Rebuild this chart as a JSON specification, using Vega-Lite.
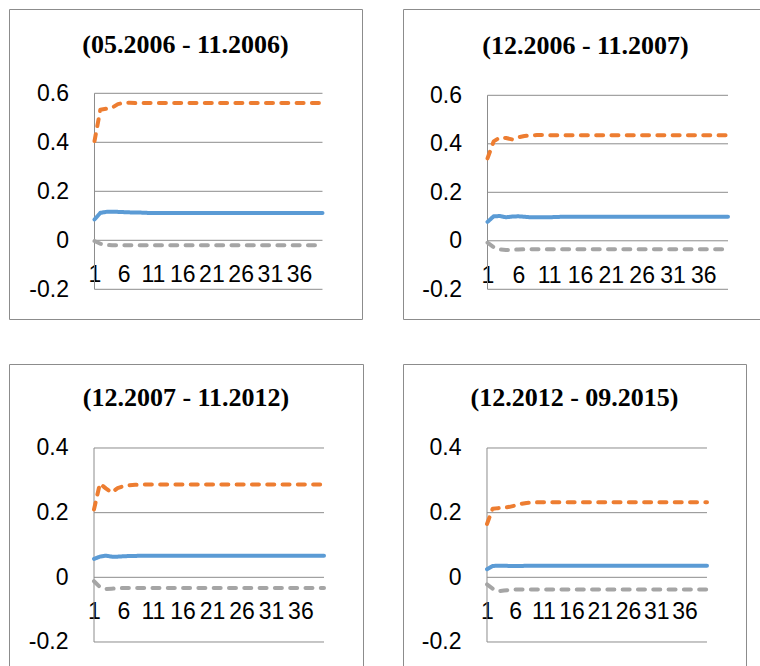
{
"$schema": "https://vega.github.io/schema/vega-lite/v6.json",
"padding": {"left": 8, "top": 8, "right": 0, "bottom": 0},
"background": "white",
"config": {
  "view": {"stroke": "#8c8c8c", "strokeWidth": 1},
  "axis": {"labelFont": "Liberation Sans", "labelFontSize": 23, "labelColor": "black", "domain": false, "ticks": false, "grid": false, "title": null, "labelOverlap": false, "labelBound": false, "labelFlush": false},
  "title": {"font": "Liberation Serif", "fontSize": 26, "fontWeight": "bold", "color": "black", "anchor": "middle", "frame": "group", "baseline": "alphabetic"}
},
"datasets": {
  "grid6": [{"v": -0.2, "x": 1, "xe": 40}, {"v": 0, "x": 1, "xe": 40}, {"v": 0.2, "x": 1, "xe": 40}, {"v": 0.4, "x": 1, "xe": 40}, {"v": 0.6, "x": 1, "xe": 40}],
  "grid4": [{"v": -0.2, "x": 1, "xe": 40}, {"v": 0, "x": 1, "xe": 40}, {"v": 0.2, "x": 1, "xe": 40}, {"v": 0.4, "x": 1, "xe": 40}],
  "axis6": [{"x": 1, "v": -0.2, "ve": 0.6}],
  "axis4": [{"x": 1, "v": -0.2, "ve": 0.4}],
  "series": [
{"p":1,"x":1,"b":0.085,"o":0.405,"g":-0.003},{"p":1,"x":2,"b":0.112,"o":0.533,"g":-0.014},{"p":1,"x":3,"b":0.116,"o":0.537,"g":-0.019},{"p":1,"x":4,"b":0.117,"o":0.541,"g":-0.02},{"p":1,"x":5,"b":0.116,"o":0.556,"g":-0.02},{"p":1,"x":6,"b":0.115,"o":0.561,"g":-0.02},{"p":1,"x":7,"b":0.114,"o":0.561,"g":-0.02},{"p":1,"x":8,"b":0.113,"o":0.56,"g":-0.02},{"p":1,"x":9,"b":0.113,"o":0.56,"g":-0.02},{"p":1,"x":10,"b":0.112,"o":0.56,"g":-0.02},
{"p":1,"x":11,"b":0.111,"o":0.56,"g":-0.02},{"p":1,"x":12,"b":0.111,"o":0.56,"g":-0.02},{"p":1,"x":13,"b":0.111,"o":0.56,"g":-0.02},{"p":1,"x":14,"b":0.111,"o":0.56,"g":-0.02},{"p":1,"x":15,"b":0.111,"o":0.56,"g":-0.02},{"p":1,"x":16,"b":0.111,"o":0.56,"g":-0.02},{"p":1,"x":17,"b":0.111,"o":0.56,"g":-0.02},{"p":1,"x":18,"b":0.111,"o":0.56,"g":-0.02},{"p":1,"x":19,"b":0.111,"o":0.56,"g":-0.02},{"p":1,"x":20,"b":0.111,"o":0.56,"g":-0.02},
{"p":1,"x":21,"b":0.111,"o":0.56,"g":-0.02},{"p":1,"x":22,"b":0.111,"o":0.56,"g":-0.02},{"p":1,"x":23,"b":0.111,"o":0.56,"g":-0.02},{"p":1,"x":24,"b":0.111,"o":0.56,"g":-0.02},{"p":1,"x":25,"b":0.111,"o":0.56,"g":-0.02},{"p":1,"x":26,"b":0.111,"o":0.56,"g":-0.02},{"p":1,"x":27,"b":0.111,"o":0.56,"g":-0.02},{"p":1,"x":28,"b":0.111,"o":0.56,"g":-0.02},{"p":1,"x":29,"b":0.111,"o":0.56,"g":-0.02},{"p":1,"x":30,"b":0.111,"o":0.56,"g":-0.02},
{"p":1,"x":31,"b":0.111,"o":0.56,"g":-0.02},{"p":1,"x":32,"b":0.111,"o":0.56,"g":-0.02},{"p":1,"x":33,"b":0.111,"o":0.56,"g":-0.02},{"p":1,"x":34,"b":0.111,"o":0.56,"g":-0.02},{"p":1,"x":35,"b":0.111,"o":0.56,"g":-0.02},{"p":1,"x":36,"b":0.111,"o":0.56,"g":-0.02},{"p":1,"x":37,"b":0.111,"o":0.56,"g":-0.02},{"p":1,"x":38,"b":0.111,"o":0.56,"g":-0.02},{"p":1,"x":39,"b":0.111,"o":0.56,"g":-0.02},{"p":1,"x":40,"b":0.111,"o":0.56,"g":-0.02},
{"p":2,"x":1,"b":0.078,"o":0.34,"g":-0.008},{"p":2,"x":2,"b":0.101,"o":0.41,"g":-0.026},{"p":2,"x":3,"b":0.102,"o":0.426,"g":-0.036},{"p":2,"x":4,"b":0.097,"o":0.424,"g":-0.038},{"p":2,"x":5,"b":0.1,"o":0.418,"g":-0.037},{"p":2,"x":6,"b":0.101,"o":0.427,"g":-0.036},{"p":2,"x":7,"b":0.099,"o":0.432,"g":-0.035},{"p":2,"x":8,"b":0.097,"o":0.435,"g":-0.035},{"p":2,"x":9,"b":0.097,"o":0.436,"g":-0.035},{"p":2,"x":10,"b":0.097,"o":0.436,"g":-0.035},
{"p":2,"x":11,"b":0.097,"o":0.435,"g":-0.035},{"p":2,"x":12,"b":0.098,"o":0.435,"g":-0.035},{"p":2,"x":13,"b":0.099,"o":0.435,"g":-0.035},{"p":2,"x":14,"b":0.099,"o":0.435,"g":-0.035},{"p":2,"x":15,"b":0.099,"o":0.435,"g":-0.035},{"p":2,"x":16,"b":0.099,"o":0.435,"g":-0.035},{"p":2,"x":17,"b":0.099,"o":0.435,"g":-0.035},{"p":2,"x":18,"b":0.099,"o":0.435,"g":-0.035},{"p":2,"x":19,"b":0.099,"o":0.435,"g":-0.035},{"p":2,"x":20,"b":0.099,"o":0.435,"g":-0.035},
{"p":2,"x":21,"b":0.099,"o":0.435,"g":-0.035},{"p":2,"x":22,"b":0.099,"o":0.435,"g":-0.035},{"p":2,"x":23,"b":0.099,"o":0.435,"g":-0.035},{"p":2,"x":24,"b":0.099,"o":0.435,"g":-0.035},{"p":2,"x":25,"b":0.099,"o":0.435,"g":-0.035},{"p":2,"x":26,"b":0.099,"o":0.435,"g":-0.035},{"p":2,"x":27,"b":0.099,"o":0.435,"g":-0.035},{"p":2,"x":28,"b":0.099,"o":0.435,"g":-0.035},{"p":2,"x":29,"b":0.099,"o":0.435,"g":-0.035},{"p":2,"x":30,"b":0.099,"o":0.435,"g":-0.035},
{"p":2,"x":31,"b":0.099,"o":0.435,"g":-0.035},{"p":2,"x":32,"b":0.099,"o":0.435,"g":-0.035},{"p":2,"x":33,"b":0.099,"o":0.435,"g":-0.035},{"p":2,"x":34,"b":0.099,"o":0.435,"g":-0.035},{"p":2,"x":35,"b":0.099,"o":0.435,"g":-0.035},{"p":2,"x":36,"b":0.099,"o":0.435,"g":-0.035},{"p":2,"x":37,"b":0.099,"o":0.435,"g":-0.035},{"p":2,"x":38,"b":0.099,"o":0.435,"g":-0.035},{"p":2,"x":39,"b":0.099,"o":0.435,"g":-0.035},{"p":2,"x":40,"b":0.099,"o":0.435,"g":-0.035},
{"p":3,"x":1,"b":0.057,"o":0.21,"g":-0.012},{"p":3,"x":2,"b":0.064,"o":0.29,"g":-0.03},{"p":3,"x":3,"b":0.067,"o":0.275,"g":-0.036},{"p":3,"x":4,"b":0.064,"o":0.262,"g":-0.035},{"p":3,"x":5,"b":0.064,"o":0.276,"g":-0.034},{"p":3,"x":6,"b":0.065,"o":0.282,"g":-0.033},{"p":3,"x":7,"b":0.066,"o":0.285,"g":-0.033},{"p":3,"x":8,"b":0.066,"o":0.286,"g":-0.033},{"p":3,"x":9,"b":0.067,"o":0.287,"g":-0.033},{"p":3,"x":10,"b":0.067,"o":0.287,"g":-0.033},
{"p":3,"x":11,"b":0.067,"o":0.287,"g":-0.033},{"p":3,"x":12,"b":0.067,"o":0.287,"g":-0.033},{"p":3,"x":13,"b":0.067,"o":0.287,"g":-0.033},{"p":3,"x":14,"b":0.067,"o":0.287,"g":-0.033},{"p":3,"x":15,"b":0.067,"o":0.287,"g":-0.033},{"p":3,"x":16,"b":0.067,"o":0.287,"g":-0.033},{"p":3,"x":17,"b":0.067,"o":0.287,"g":-0.033},{"p":3,"x":18,"b":0.067,"o":0.287,"g":-0.033},{"p":3,"x":19,"b":0.067,"o":0.287,"g":-0.033},{"p":3,"x":20,"b":0.067,"o":0.287,"g":-0.033},
{"p":3,"x":21,"b":0.067,"o":0.287,"g":-0.033},{"p":3,"x":22,"b":0.067,"o":0.287,"g":-0.033},{"p":3,"x":23,"b":0.067,"o":0.287,"g":-0.033},{"p":3,"x":24,"b":0.067,"o":0.287,"g":-0.033},{"p":3,"x":25,"b":0.067,"o":0.287,"g":-0.033},{"p":3,"x":26,"b":0.067,"o":0.287,"g":-0.033},{"p":3,"x":27,"b":0.067,"o":0.287,"g":-0.033},{"p":3,"x":28,"b":0.067,"o":0.287,"g":-0.033},{"p":3,"x":29,"b":0.067,"o":0.287,"g":-0.033},{"p":3,"x":30,"b":0.067,"o":0.287,"g":-0.033},
{"p":3,"x":31,"b":0.067,"o":0.287,"g":-0.033},{"p":3,"x":32,"b":0.067,"o":0.287,"g":-0.033},{"p":3,"x":33,"b":0.067,"o":0.287,"g":-0.033},{"p":3,"x":34,"b":0.067,"o":0.287,"g":-0.033},{"p":3,"x":35,"b":0.067,"o":0.287,"g":-0.033},{"p":3,"x":36,"b":0.067,"o":0.287,"g":-0.033},{"p":3,"x":37,"b":0.067,"o":0.287,"g":-0.033},{"p":3,"x":38,"b":0.067,"o":0.287,"g":-0.033},{"p":3,"x":39,"b":0.067,"o":0.287,"g":-0.033},{"p":3,"x":40,"b":0.067,"o":0.287,"g":-0.033},
{"p":4,"x":1,"b":0.025,"o":0.165,"g":-0.022},{"p":4,"x":2,"b":0.035,"o":0.212,"g":-0.035},{"p":4,"x":3,"b":0.036,"o":0.214,"g":-0.043},{"p":4,"x":4,"b":0.036,"o":0.215,"g":-0.041},{"p":4,"x":5,"b":0.035,"o":0.218,"g":-0.039},{"p":4,"x":6,"b":0.035,"o":0.222,"g":-0.038},{"p":4,"x":7,"b":0.035,"o":0.227,"g":-0.038},{"p":4,"x":8,"b":0.036,"o":0.23,"g":-0.038},{"p":4,"x":9,"b":0.036,"o":0.231,"g":-0.038},{"p":4,"x":10,"b":0.036,"o":0.232,"g":-0.038},
{"p":4,"x":11,"b":0.036,"o":0.232,"g":-0.038},{"p":4,"x":12,"b":0.036,"o":0.232,"g":-0.038},{"p":4,"x":13,"b":0.036,"o":0.232,"g":-0.038},{"p":4,"x":14,"b":0.036,"o":0.232,"g":-0.038},{"p":4,"x":15,"b":0.036,"o":0.232,"g":-0.038},{"p":4,"x":16,"b":0.036,"o":0.232,"g":-0.038},{"p":4,"x":17,"b":0.036,"o":0.232,"g":-0.038},{"p":4,"x":18,"b":0.036,"o":0.232,"g":-0.038},{"p":4,"x":19,"b":0.036,"o":0.232,"g":-0.038},{"p":4,"x":20,"b":0.036,"o":0.232,"g":-0.038},
{"p":4,"x":21,"b":0.036,"o":0.232,"g":-0.038},{"p":4,"x":22,"b":0.036,"o":0.232,"g":-0.038},{"p":4,"x":23,"b":0.036,"o":0.232,"g":-0.038},{"p":4,"x":24,"b":0.036,"o":0.232,"g":-0.038},{"p":4,"x":25,"b":0.036,"o":0.232,"g":-0.038},{"p":4,"x":26,"b":0.036,"o":0.232,"g":-0.038},{"p":4,"x":27,"b":0.036,"o":0.232,"g":-0.038},{"p":4,"x":28,"b":0.036,"o":0.232,"g":-0.038},{"p":4,"x":29,"b":0.036,"o":0.232,"g":-0.038},{"p":4,"x":30,"b":0.036,"o":0.232,"g":-0.038},
{"p":4,"x":31,"b":0.036,"o":0.232,"g":-0.038},{"p":4,"x":32,"b":0.036,"o":0.232,"g":-0.038},{"p":4,"x":33,"b":0.036,"o":0.232,"g":-0.038},{"p":4,"x":34,"b":0.036,"o":0.232,"g":-0.038},{"p":4,"x":35,"b":0.036,"o":0.232,"g":-0.038},{"p":4,"x":36,"b":0.036,"o":0.232,"g":-0.038},{"p":4,"x":37,"b":0.036,"o":0.232,"g":-0.038},{"p":4,"x":38,"b":0.036,"o":0.232,"g":-0.038},{"p":4,"x":39,"b":0.036,"o":0.232,"g":-0.038},{"p":4,"x":40,"b":0.036,"o":0.232,"g":-0.038}
  ]
},
"spacing": 43,
"vconcat": [
 {"spacing": 39, "hconcat": [
  {"width": 353, "height": 310,
   "title": {"text": "(05.2006 - 11.2006)", "offset": -48.5},
   "encoding": {
     "x": {"field": "x", "type": "quantitative", "scale": {"domain": [-13.625, 46.757], "nice": false, "zero": false}, "axis": {"values": [1,6,11,16,21,26,31,36], "offset": -38, "labelPadding": 0, "labelBaseline": "alphabetic"}},
     "y": {"field": "v", "type": "quantitative", "scale": {"domain": [-0.3212, 0.9441], "nice": false, "zero": false}, "axis": {"values": [-0.2,0,0.2,0.4,0.6], "offset": -85.5, "labelPadding": 26, "labelExpr": "toString(datum.value)"}}
   },
   "layer": [
     {"data": {"name": "grid6"}, "mark": {"type": "rule", "color": "#8c8c8c", "strokeWidth": 1}, "encoding": {"x2": {"field": "xe"}}},
     {"data": {"name": "axis6"}, "mark": {"type": "rule", "color": "#8c8c8c", "strokeWidth": 1}, "encoding": {"y2": {"field": "ve"}}},
     {"data": {"name": "series"}, "transform": [{"filter": "datum.p == 1"}, {"fold": ["b","o","g"], "as": ["s","v"]}],
      "mark": {"type": "line", "strokeWidth": 4, "strokeCap": "round", "strokeJoin": "round"},
      "encoding": {"color": {"field": "s", "type": "nominal", "scale": {"domain": ["b","o","g"], "range": ["#5B9BD5","#ED7D31","#A5A5A5"]}, "legend": null},
                   "strokeDash": {"field": "s", "type": "nominal", "scale": {"domain": ["b","o","g"], "range": [[1,0],[7,8.3],[7,8.3]]}, "legend": null}}}
   ]},
  {"width": 365, "height": 310,
   "title": {"text": "(12.2006 - 11.2007)", "offset": -49.5},
   "encoding": {
     "x": {"field": "x", "type": "quantitative", "scale": {"domain": [-12.703, 46.486], "nice": false, "zero": false}, "axis": {"values": [1,6,11,16,21,26,31,36], "offset": -37, "labelPadding": 0, "labelBaseline": "alphabetic"}},
     "y": {"field": "v", "type": "quantitative", "scale": {"domain": [-0.3225, 0.9559], "nice": false, "zero": false}, "axis": {"values": [-0.2,0,0.2,0.4,0.6], "offset": -84.5, "labelPadding": 26, "labelExpr": "toString(datum.value)"}}
   },
   "layer": [
     {"data": {"name": "grid6"}, "mark": {"type": "rule", "color": "#8c8c8c", "strokeWidth": 1}, "encoding": {"x2": {"field": "xe"}}},
     {"data": {"name": "axis6"}, "mark": {"type": "rule", "color": "#8c8c8c", "strokeWidth": 1}, "encoding": {"y2": {"field": "ve"}}},
     {"data": {"name": "series"}, "transform": [{"filter": "datum.p == 2"}, {"fold": ["b","o","g"], "as": ["s","v"]}],
      "mark": {"type": "line", "strokeWidth": 4, "strokeCap": "round", "strokeJoin": "round"},
      "encoding": {"color": {"field": "s", "type": "nominal", "scale": {"domain": ["b","o","g"], "range": ["#5B9BD5","#ED7D31","#A5A5A5"]}, "legend": null},
                   "strokeDash": {"field": "s", "type": "nominal", "scale": {"domain": ["b","o","g"], "range": [[1,0],[7,8.3],[7,8.3]]}, "legend": null}}}
   ]}
 ]},
 {"spacing": 38, "hconcat": [
  {"width": 354, "height": 310,
   "title": {"text": "(12.2007 - 11.2012)", "offset": -47},
   "encoding": {
     "x": {"field": "x", "type": "quantitative", "scale": {"domain": [-13.414, 46.613], "nice": false, "zero": false}, "axis": {"values": [1,6,11,16,21,26,31,36], "offset": -56, "labelPadding": 0, "labelBaseline": "alphabetic"}},
     "y": {"field": "v", "type": "quantitative", "scale": {"domain": [-0.299, 0.6598], "nice": false, "zero": false}, "axis": {"values": [-0.2,0,0.2,0.4], "offset": -85, "labelPadding": 26, "labelExpr": "toString(datum.value)"}}
   },
   "layer": [
     {"data": {"name": "grid4"}, "mark": {"type": "rule", "color": "#8c8c8c", "strokeWidth": 1}, "encoding": {"x2": {"field": "xe"}}},
     {"data": {"name": "axis4"}, "mark": {"type": "rule", "color": "#8c8c8c", "strokeWidth": 1}, "encoding": {"y2": {"field": "ve"}}},
     {"data": {"name": "series"}, "transform": [{"filter": "datum.p == 3"}, {"fold": ["b","o","g"], "as": ["s","v"]}],
      "mark": {"type": "line", "strokeWidth": 4, "strokeCap": "round", "strokeJoin": "round"},
      "encoding": {"color": {"field": "s", "type": "nominal", "scale": {"domain": ["b","o","g"], "range": ["#5B9BD5","#ED7D31","#A5A5A5"]}, "legend": null},
                   "strokeDash": {"field": "s", "type": "nominal", "scale": {"domain": ["b","o","g"], "range": [[1,0],[7,8.3],[7,8.3]]}, "legend": null}}}
   ]},
  {"width": 343, "height": 310,
   "title": {"text": "(12.2012 - 09.2015)", "offset": -47},
   "encoding": {
     "x": {"field": "x", "type": "quantitative", "scale": {"domain": [-13.891, 46.914], "nice": false, "zero": false}, "axis": {"values": [1,6,11,16,21,26,31,36], "offset": -56, "labelPadding": 0, "labelBaseline": "alphabetic"}},
     "y": {"field": "v", "type": "quantitative", "scale": {"domain": [-0.299, 0.6598], "nice": false, "zero": false}, "axis": {"values": [-0.2,0,0.2,0.4], "offset": -84, "labelPadding": 26, "labelExpr": "toString(datum.value)"}}
   },
   "layer": [
     {"data": {"name": "grid4"}, "mark": {"type": "rule", "color": "#8c8c8c", "strokeWidth": 1}, "encoding": {"x2": {"field": "xe"}}},
     {"data": {"name": "axis4"}, "mark": {"type": "rule", "color": "#8c8c8c", "strokeWidth": 1}, "encoding": {"y2": {"field": "ve"}}},
     {"data": {"name": "series"}, "transform": [{"filter": "datum.p == 4"}, {"fold": ["b","o","g"], "as": ["s","v"]}],
      "mark": {"type": "line", "strokeWidth": 4, "strokeCap": "round", "strokeJoin": "round"},
      "encoding": {"color": {"field": "s", "type": "nominal", "scale": {"domain": ["b","o","g"], "range": ["#5B9BD5","#ED7D31","#A5A5A5"]}, "legend": null},
                   "strokeDash": {"field": "s", "type": "nominal", "scale": {"domain": ["b","o","g"], "range": [[1,0],[7,8.3],[7,8.3]]}, "legend": null}}}
   ]}
 ]}
]
}
